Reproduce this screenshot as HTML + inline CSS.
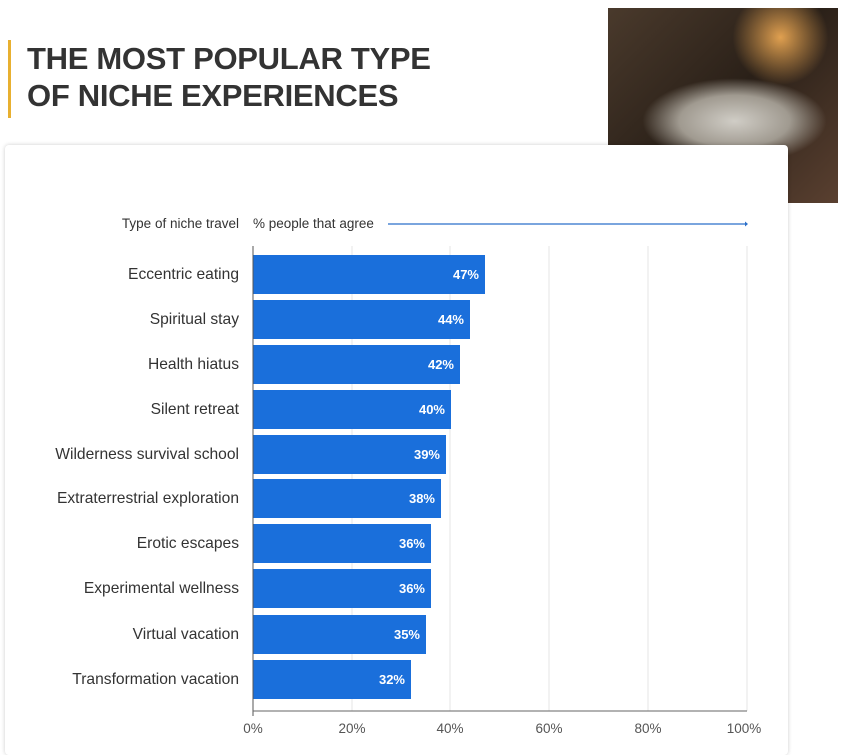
<!DOCTYPE html>
<html><head><meta charset="utf-8"><style>
body{margin:0;width:850px;height:745px;background:#fff;position:relative;overflow:hidden;font-family:"Liberation Sans",sans-serif}
.photo{position:absolute;left:608px;top:8px;width:230px;height:195px;background:radial-gradient(ellipse 40% 22% at 55% 58%,#d0cdc6 0,#a09a90 60%,transparent 100%),radial-gradient(circle at 75% 15%,#e0a050 0,transparent 20%),linear-gradient(135deg,#4a3a2c,#2a2018 50%,#5a4030);}
.bar{position:absolute;left:8px;top:40px;width:3px;height:78px;background:#e8b030}
.title{position:absolute;left:27px;top:40px;font-weight:bold;font-size:31px;line-height:37px;color:#333;letter-spacing:-0.3px}
.card{position:absolute;left:5px;top:145px;width:783px;height:610px;background:#fff;border-radius:4px;box-shadow:0 0 4px rgba(0,0,0,.2)}
svg{position:absolute;left:0;top:0}
</style></head><body>
<div class="photo"></div>
<div class="bar"></div>
<div class="title">THE MOST POPULAR TYPE<br>OF NICHE EXPERIENCES</div>
<div class="card"></div>
<svg width="850" height="745" font-family="Liberation Sans, sans-serif">
<text x="239" y="228" font-size="13.5" text-anchor="end" fill="#333">Type of niche travel</text>
<text x="253" y="228" font-size="13.5" fill="#333">% people that agree</text>
<line x1="388" y1="224" x2="745" y2="224" stroke="#2a6fc9" stroke-width="1.2"/>
<polygon points="745,221.5 748,224 745,226.5" fill="#2a6fc9"/>
<g stroke="#e4e4e4"><line x1="352" y1="246" x2="352" y2="711"/><line x1="450" y1="246" x2="450" y2="711"/><line x1="549" y1="246" x2="549" y2="711"/><line x1="648" y1="246" x2="648" y2="711"/><line x1="747" y1="246" x2="747" y2="711"/></g>
<g fill="#1a6fdb">
<rect x="253" y="255" width="232" height="39"/><rect x="253" y="300" width="217" height="39"/><rect x="253" y="345" width="207" height="39"/><rect x="253" y="390" width="198" height="39"/><rect x="253" y="435" width="193" height="39"/><rect x="253" y="479" width="188" height="39"/><rect x="253" y="524" width="178" height="39"/><rect x="253" y="569" width="178" height="39"/><rect x="253" y="615" width="173" height="39"/><rect x="253" y="660" width="158" height="39"/>
</g>
<g font-size="13" font-weight="bold" fill="#fff" text-anchor="end">
<text x="479" y="279">47%</text><text x="464" y="324">44%</text><text x="454" y="369">42%</text><text x="445" y="414">40%</text><text x="440" y="459">39%</text><text x="435" y="503">38%</text><text x="425" y="548">36%</text><text x="425" y="593">36%</text><text x="420" y="639">35%</text><text x="405" y="684">32%</text>
</g>
<g font-size="15.6" fill="#333" text-anchor="end">
<text x="239" y="279">Eccentric eating</text><text x="239" y="324">Spiritual stay</text><text x="239" y="369">Health hiatus</text><text x="239" y="414">Silent retreat</text><text x="239" y="459">Wilderness survival school</text><text x="239" y="503">Extraterrestrial exploration</text><text x="239" y="548">Erotic escapes</text><text x="239" y="593">Experimental wellness</text><text x="239" y="639">Virtual vacation</text><text x="239" y="684">Transformation vacation</text>
</g>
<line x1="253" y1="246" x2="253" y2="716" stroke="#555"/>
<line x1="253" y1="711" x2="747" y2="711" stroke="#666"/>
<g font-size="13.5" fill="#555" text-anchor="middle">
<text x="253" y="733">0%</text><text x="352" y="733">20%</text><text x="450" y="733">40%</text><text x="549" y="733">60%</text><text x="648" y="733">80%</text><text x="744" y="733">100%</text>
</g>
</svg>
</body></html>
